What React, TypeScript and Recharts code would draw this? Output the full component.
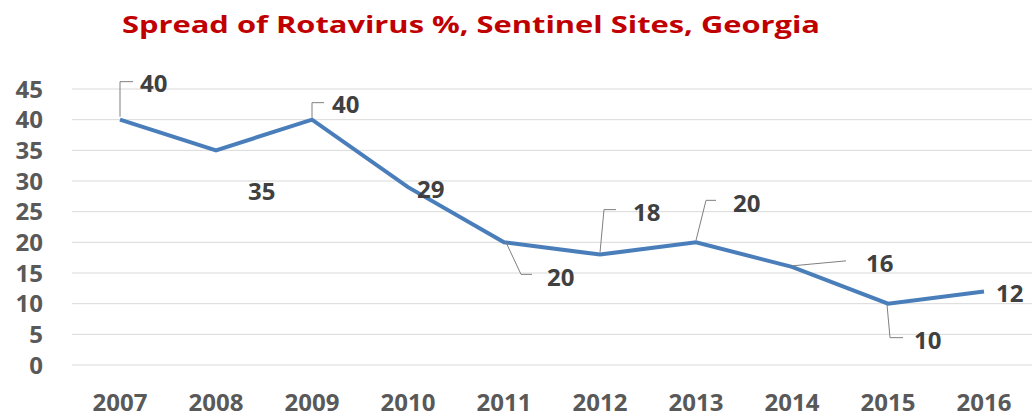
import { LineChart, Line, XAxis, YAxis, CartesianGrid, LabelList } from 'recharts';

const years = ['2007', '2008', '2009', '2010', '2011', '2012', '2013', '2014', '2015', '2016'];
const spread = [40, 35, 40, 29, 20, 18, 20, 16, 10, 12];
const yTicks = [0, 5, 10, 15, 20, 25, 30, 35, 40, 45];

const chartData = years.map((year, i) => ({ year, spread: spread[i] }));

// label placement relative to the point, plus leader line if any
const labelLayout: { dx: number; dy: number; leader?: number[][] }[] = [
  { dx: 20, dy: -37, leader: [[0, -3], [0, -38], [13, -38]] },
  { dx: 32, dy: 40 },
  { dx: 20, dy: -16, leader: [[0, -2], [0, -17], [12, -17]] },
  { dx: 9, dy: 1 },
  { dx: 43, dy: 34, leader: [[2, 0], [17, 32], [28, 32]] },
  { dx: 33, dy: -43, leader: [[0, -2], [4, -45], [16, -45]] },
  { dx: 37, dy: -40, leader: [[0, -2], [10, -42], [20, -42]] },
  { dx: 74, dy: -4, leader: [[0, -1], [54, -6]] },
  { dx: 26, dy: 36, leader: [[-1, 1], [2, 34], [15, 34]] },
  { dx: 12, dy: 1 },
];

const PointLabel = (props: any) => {
  const { x, y, value, index } = props;
  const lay = labelLayout[index];
  if (!lay) return null;
  return (
    <g>
      {lay.leader && (
        <polyline
          points={lay.leader.map(([a, b]) => `${x + a},${y + b}`).join(' ')}
          fill="none"
          stroke="#7f7f7f"
          strokeWidth={1}
        />
      )}
      <text
        x={x + lay.dx}
        y={y + lay.dy}
        dominantBaseline="central"
        textAnchor="start"
        fill="#404040"
        fontSize={24}
        fontWeight={700}
        fontFamily="'Open Sans', sans-serif"
      >
        {value}
      </text>
    </g>
  );
};

export default function App() {
  return (
    <div style={{ position: 'absolute', left: 0, top: 0, width: 1033, height: 420, background: '#fff' }}>
      <svg width={1033} height={50} style={{ position: 'absolute', left: 0, top: 0 }}>
        <text
          x={122}
          y={23}
          dominantBaseline="central"
          fill="#c00000"
          fontSize={24}
          fontWeight={700}
          fontFamily="'Open Sans', sans-serif"
          textLength={698}
          lengthAdjust="spacingAndGlyphs"
        >
          Spread of Rotavirus %, Sentinel Sites, Georgia
        </text>
      </svg>
      <LineChart
        width={1033}
        height={420}
        data={chartData}
        margin={{ top: 89, right: 1, bottom: 0, left: 0 }}
      >
        <CartesianGrid vertical={false} stroke="#d9d9d9" strokeWidth={1} />
        <XAxis
          dataKey="year"
          height={55}
          padding={{ left: 48, right: 48 }}
          axisLine={false}
          tickLine={false}
          tickSize={0}
          tickMargin={29}
          interval={0}
          tick={{ fill: '#595959', fontSize: 24, fontWeight: 700, fontFamily: "'Open Sans', sans-serif" }}
        />
        <YAxis
          width={72}
          domain={[0, 45]}
          ticks={yTicks}
          interval={0}
          axisLine={false}
          tickLine={false}
          tickSize={0}
          tickMargin={29}
          tick={{ fill: '#595959', fontSize: 24, fontWeight: 700, fontFamily: "'Open Sans', sans-serif" }}
        />
        <Line
          type="linear"
          dataKey="spread"
          stroke="#4a7ebb"
          strokeWidth={4}
          dot={false}
          isAnimationActive={false}
        >
          <LabelList dataKey="spread" content={<PointLabel />} />
        </Line>
      </LineChart>
    </div>
  );
}
